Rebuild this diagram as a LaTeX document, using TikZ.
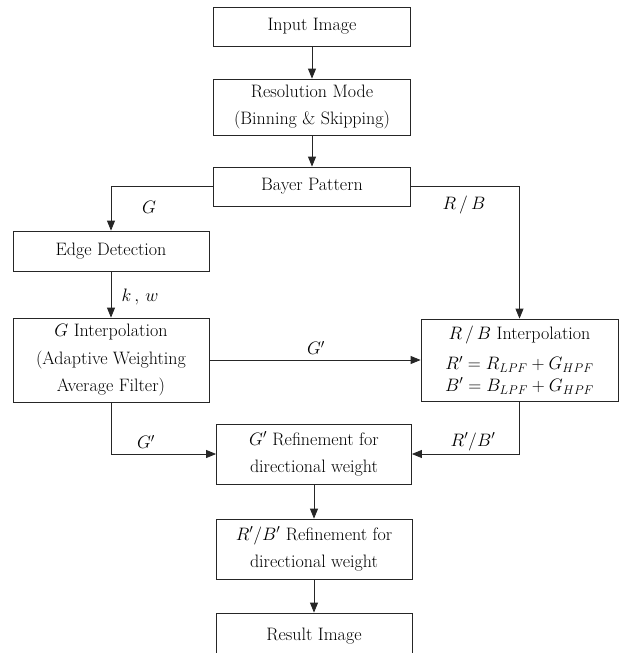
\RequirePackage{fix-cm}
\documentclass[tikz,border=0pt]{standalone}
\usetikzlibrary{arrows.meta}
\tikzset{
  box/.style={draw=black!85, line width=0.8pt, minimum width=197pt, inner sep=0pt, align=center, font=\fontsize{18}{27.5}\selectfont},
  arr/.style={-{Triangle[length=10pt,width=8pt]}, line width=0.8pt, draw=black!85},
  lbl/.style={inner sep=0pt, font=\fontsize{18}{20}\selectfont}
}
\begin{document}
\begin{tikzpicture}[x=1pt,y=-1pt]
\useasboundingbox (0,0) rectangle (619,653);
\clip (0,0) rectangle (619,653);
\node[box, minimum height=39pt] (in) at (312,26.5) {Input Image};
\node[box, minimum height=56pt] (res) at (312,107) {Resolution Mode\\(Binning \& Skipping)};
\node[box, minimum height=39pt] (bay) at (312,186.5) {Bayer Pattern};
\node[box, minimum width=196pt, minimum height=40pt] (edge) at (111,251) {Edge Detection};
\node[box, minimum width=196pt, minimum height=84pt] (gi) at (111,360) {$G$ Interpolation\\(Adaptive Weighting\\Average Filter)};
\node[box, minimum height=82pt] (rbi) at (519.5,360) {$R\,/\,B$ Interpolation\\[3pt]$R' = R_{LPF} + G_{HPF}$\\[-6pt]$B' = B_{LPF} + G_{HPF}$};
\node[box, minimum width=195pt, minimum height=60pt] (gref) at (314,454) {$G'$ Refinement for\\directional weight};
\node[box, minimum width=196pt, minimum height=60pt] (rbref) at (314,549) {$R'/B'$ Refinement for\\directional weight};
\node[box, minimum width=196pt, minimum height=46pt] (out) at (314,636) {Result Image};
\node[lbl] (lG) at (149,207) {$G$};
\node[lbl] (lRB) at (464,205) {$R\,/\,B$};
\node[lbl] (lkw) at (140,297) {$k\,,\,w$};
\node[lbl] (lG1) at (316,348) {$G'$};
\node[lbl] (lG2) at (146,442) {$G'$};
\node[lbl] (lRB2) at (473,442) {$R'/B'$};
\draw[arr] (in) -- (res);
\draw[arr] (res) -- (bay);
\draw[arr] (bay.west) -| (edge.north);
\draw[arr] (bay.east) -| (rbi.north);
\draw[arr] (edge) -- (gi);
\draw[arr] (gi.east) -- (rbi.west);
\draw[arr] (gi.south) |- (gref.west);
\draw[arr] (rbi.south) |- (gref.east);
\draw[arr] (gref) -- (rbref);
\draw[arr] (rbref) -- (out);
\end{tikzpicture}
\end{document}
